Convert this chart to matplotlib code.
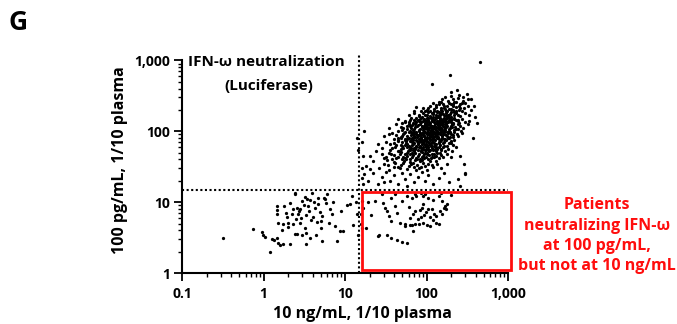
import matplotlib.pyplot as plt
from matplotlib.ticker import FixedLocator, LogLocator, NullFormatter
from matplotlib.patches import Rectangle

plt.rcParams['font.family'] = ['Open Sans', 'DejaVu Sans']
plt.rcParams['font.weight'] = 'bold'

# cut-offs (ng/mL panel and pg/mL panel), same value in both
cut_x = 15
cut_y = 15

# patients neutralizing at both concentrations (upper right)
both = [
    (450, 950), (195, 615), (115, 470), (235, 375), (315, 340), (280, 300), (200, 360),
    (350, 280), (380, 230), (390, 160), (370, 80), (300, 26), (420, 130), (320, 280),
    (140, 260), (170, 300), (210, 280), (250, 320), (190, 250), (230, 260), (280, 270),
    (160, 240), (300, 250), (200, 310), (260, 240), (120, 250),
    (90, 210), (110, 230), (130, 220), (150, 215), (180, 230), (200, 205), (230, 220),
    (260, 210), (290, 215), (320, 230), (170, 205), (140, 240), (75, 220), (100, 200),
    (210, 240), (250, 230), (350, 200),
    (60, 170), (70, 180), (85, 190), (95, 170), (105, 185), (120, 175), (135, 195),
    (150, 180), (165, 170), (180, 190), (195, 175), (215, 185), (240, 170), (270, 190),
    (300, 180), (330, 170), (110, 165), (130, 160), (155, 195), (200, 160), (230, 195),
    (80, 165), (260, 165), (95, 195), (140, 170), (175, 180), (125, 190), (185, 165),
    (45, 150), (55, 140), (65, 155), (75, 135), (82, 150), (90, 140), (100, 155),
    (108, 135), (115, 150), (125, 145), (135, 130), (145, 155), (155, 140), (170, 150),
    (185, 135), (200, 145), (220, 155), (245, 140), (270, 150), (300, 135), (60, 135),
    (70, 145), (95, 130), (120, 158), (140, 138), (160, 148), (190, 157), (210, 132),
    (230, 145), (88, 158), (105, 145), (130, 152), (175, 140), (250, 130), (330, 140),
    (50, 130), (78, 142), (115, 138), (150, 132), (200, 150),
    (35, 110), (42, 125), (50, 105), (58, 120), (65, 112), (72, 128), (80, 105),
    (88, 118), (95, 125), (102, 108), (110, 122), (118, 112), (126, 128), (134, 102),
    (142, 118), (150, 110), (160, 125), (170, 105), (180, 118), (195, 112), (210, 125),
    (230, 108), (255, 120), (280, 110), (320, 125), (48, 115), (62, 100), (76, 118),
    (84, 128), (92, 102), (100, 115), (112, 105), (122, 120), (138, 112), (148, 126),
    (165, 115), (188, 102), (205, 115), (240, 125), (60, 127), (70, 108), (98, 120),
    (130, 115), (155, 103), (175, 128), (215, 104), (265, 102), (45, 100), (108, 128),
    (145, 107),
    (30, 85), (38, 95), (45, 80), (52, 92), (58, 78), (64, 88), (70, 98), (76, 82),
    (82, 94), (88, 76), (94, 86), (100, 97), (106, 80), (112, 90), (120, 78), (128, 95),
    (136, 85), (145, 98), (155, 80), (165, 92), (178, 85), (192, 97), (210, 82),
    (235, 90), (270, 95), (40, 78), (50, 86), (60, 96), (68, 80), (74, 90), (86, 84),
    (92, 99), (98, 78), (104, 92), (116, 85), (124, 99), (140, 77), (150, 90), (170, 78),
    (200, 92), (55, 99), (80, 88), (110, 76), (132, 90), (160, 96), (185, 80), (220, 96),
    (35, 92), (65, 76), (90, 92),
    (25, 65), (32, 70), (38, 58), (44, 72), (50, 62), (56, 68), (62, 56), (68, 74),
    (74, 60), (80, 70), (86, 58), (92, 66), (98, 73), (104, 57), (112, 64), (120, 71),
    (130, 60), (140, 68), (150, 56), (165, 70), (180, 62), (200, 72), (230, 60),
    (42, 64), (48, 56), (54, 74), (60, 62), (66, 70), (72, 57), (78, 66), (84, 74),
    (90, 60), (96, 55), (108, 69), (118, 58), (126, 66), (145, 73), (160, 60), (190, 68),
    (28, 58), (36, 66), (58, 60), (76, 72), (100, 64), (135, 57), (210, 64), (64, 58),
    (88, 71),
    (20, 45), (24, 52), (30, 42), (35, 50), (40, 46), (45, 53), (50, 41), (55, 48),
    (60, 54), (66, 43), (72, 50), (78, 45), (85, 53), (92, 42), (100, 48), (110, 54),
    (122, 44), (135, 50), (150, 46), (170, 52), (200, 44), (28, 48), (38, 40), (48, 51),
    (58, 45), (68, 55), (82, 40), (95, 50), (115, 47), (140, 42), (260, 45), (44, 44),
    (62, 48), (105, 41),
    (18, 32), (22, 38), (26, 30), (30, 35), (35, 28), (40, 37), (45, 31), (52, 36),
    (58, 29), (65, 34), (72, 39), (80, 30), (90, 36), (100, 28), (115, 33), (130, 38),
    (150, 30), (180, 35), (33, 39), (48, 33), (62, 37), (85, 31), (110, 38), (290, 35),
    (20, 29), (75, 28),
    (17, 25), (19, 20), (22, 26), (25, 18), (28, 23), (32, 27), (36, 20), (40, 24),
    (45, 18), (50, 26), (55, 21), (62, 25), (70, 19), (78, 23), (88, 27), (95, 20),
    (105, 24), (120, 18), (140, 22), (165, 26), (190, 19), (240, 21), (300, 25),
    (260, 17), (30, 19), (58, 17),
    (16, 30), (16.5, 45), (16, 70), (17, 100), (16, 22), (16.5, 18), (14.5, 55), (14, 80),
]

# dense core of the upper right cloud
both_core = [
    (34, 33), (41, 36), (47, 30), (53, 38), (61, 32), (68, 36), (76, 33), (83, 38),
    (95, 32), (104, 35), (120, 31), (135, 34), (56, 40), (71, 31), (88, 39), (40, 31),
    (32, 44), (37, 47), (42, 42), (47, 48), (52, 44), (57, 49), (63, 41), (69, 46),
    (74, 42), (80, 48), (87, 44), (93, 47), (99, 43), (106, 46), (114, 42), (124, 48),
    (132, 45), (145, 49), (160, 43), (180, 47), (54, 42), (66, 49), (77, 41), (90, 45),
    (102, 49), (118, 44),
    (36, 55), (41, 60), (46, 53), (51, 58), (55, 63), (59, 52), (63, 59), (67, 64),
    (71, 53), (75, 61), (79, 55), (83, 62), (87, 51), (91, 57), (95, 63), (99, 54),
    (103, 60), (108, 52), (113, 61), (119, 55), (125, 62), (132, 53), (140, 60),
    (152, 55), (165, 62), (185, 57), (205, 53), (48, 64), (70, 58), (85, 53), (97, 59),
    (110, 64), (128, 57), (145, 64), (62, 55), (80, 60),
    (40, 68), (45, 75), (50, 70), (54, 77), (58, 67), (62, 73), (66, 79), (70, 69),
    (74, 76), (78, 68), (82, 74), (86, 79), (90, 70), (94, 76), (98, 67), (102, 73),
    (107, 79), (112, 69), (117, 75), (122, 68), (128, 74), (135, 79), (142, 70),
    (150, 76), (160, 68), (172, 74), (186, 79), (200, 69), (220, 75), (56, 72),
    (68, 66), (80, 77), (92, 73), (105, 70), (115, 78), (130, 67), (145, 73), (165, 78),
    (48, 79), (88, 66),
    (42, 88), (48, 83), (53, 95), (57, 86), (61, 81), (66, 92), (71, 85), (75, 97),
    (79, 89), (84, 81), (88, 93), (93, 86), (97, 95), (101, 83), (106, 90), (111, 98),
    (116, 82), (121, 91), (127, 87), (133, 96), (139, 82), (146, 90), (154, 86),
    (162, 99), (172, 88), (183, 93), (196, 84), (212, 89), (240, 86), (64, 99),
    (73, 83), (86, 88), (95, 81), (109, 86), (125, 82), (142, 95), (158, 91), (178, 97),
    (68, 90), (100, 90), (118, 96), (135, 90),
    (52, 112), (57, 106), (63, 118), (68, 103), (73, 114), (78, 122), (83, 109),
    (87, 116), (91, 104), (96, 112), (101, 121), (105, 103), (110, 113), (115, 119),
    (120, 107), (125, 116), (131, 104), (137, 122), (143, 113), (150, 105), (158, 117),
    (166, 110), (175, 122), (186, 107), (198, 118), (222, 113), (245, 106), (66, 124),
    (81, 101), (94, 120), (107, 110), (128, 110), (153, 121), (172, 114), (90, 110),
    (118, 101), (140, 108), (162, 103),
    (55, 136), (62, 145), (68, 131), (74, 152), (80, 140), (86, 133), (92, 148),
    (98, 138), (104, 156), (110, 130), (116, 143), (122, 135), (128, 151), (134, 141),
    (141, 133), (148, 147), (156, 138), (165, 156), (175, 130), (186, 144), (198, 137),
    (215, 150), (240, 146), (85, 155), (100, 134), (113, 152), (127, 131), (145, 142),
    (160, 135), (180, 152), (205, 128), (72, 140), (95, 145), (137, 158), (170, 140),
    (70, 190), (80, 172), (90, 182), (100, 168), (110, 195), (120, 182), (130, 170),
    (140, 188), (150, 200), (160, 176), (172, 192), (185, 170), (198, 185), (212, 198),
    (230, 178), (250, 200), (105, 210), (125, 205), (145, 170), (165, 212), (190, 208),
    (115, 178), (135, 185), (175, 165), (220, 168),
    (130, 235), (150, 255), (165, 228), (185, 270), (200, 240), (220, 260), (240, 290),
    (270, 250), (155, 285), (210, 225),
]

# neutralizing at 100 pg/mL only, below the 10 ng/mL cut-off (lower left)
low_left = [
    (0.32, 3.1), (0.74, 4.2), (0.96, 3.8), (0.97, 3.5), (1.05, 3.2), (1.2, 2.0),
    (1.25, 3.0), (1.35, 2.9), (1.45, 3.1), (1.5, 2.7), (1.6, 2.5), (1.75, 2.6),
    (2.1, 2.6), (1.46, 8.9), (1.46, 7.8), (1.46, 6.8), (1.8, 8.9), (1.9, 7.0),
    (1.95, 6.2), (2.2, 6.8), (2.3, 8.0), (2.6, 8.3), (2.7, 7.5), (2.65, 6.8),
    (2.8, 8.0), (3.0, 10.4), (3.4, 11.1), (3.5, 8.9), (3.7, 10.8), (4.1, 10.0),
    (4.7, 11.5), (4.6, 9.5), (2.8, 5.1), (2.3, 5.0), (2.0, 5.1), (1.75, 5.0),
    (1.5, 5.1), (3.2, 4.3), (3.3, 3.7), (3.0, 3.5), (2.4, 3.6), (2.6, 3.6),
    (5.2, 6.4), (5.0, 5.5), (5.1, 4.3), (5.5, 11.5), (6.0, 13), (6.5, 8.0),
    (6.9, 6.8), (7.6, 4.6), (8.7, 3.9), (10.5, 9.1), (11.5, 9.5), (14, 6.8),
    (9.5, 3.9), (8.0, 2.8), (5.2, 2.8), (3.7, 3.1), (3.3, 2.6), (2.4, 13.5),
    (3.9, 13.5), (5.7, 11), (12, 12.3), (2.4, 13), (3.1, 9.2), (3.6, 7.6),
    (4.3, 8.4), (4.0, 6.1), (3.3, 6.6), (2.9, 6.0), (2.5, 5.8), (4.5, 5.2),
    (3.8, 5.6), (4.9, 7.3), (5.8, 9.6), (3.2, 12.0), (2.1, 9.8), (2.0, 4.4),
    (1.7, 4.0), (6.3, 5.1), (7.2, 10.2), (9.0, 7.4), (12.5, 4.8), (13.5, 9.9),
    (14.2, 3.4), (4.4, 3.4),
]

# neutralizing at 100 pg/mL but not at 10 ng/mL (red box)
red_box = [
    (16, 10.4), (16.5, 8.3), (15.5, 6.8), (15.5, 4.9), (16, 4.3), (19, 10.1),
    (23, 10.4), (29, 9.8), (31, 8.3), (33, 7.5), (35, 6.4), (37, 5.4), (41, 8.9),
    (43, 7.0), (50, 10.4), (47, 5.1), (54, 4.9), (26, 3.5), (25, 3.3), (33, 3.5),
    (37, 3.1), (43, 2.9), (50, 2.75), (57, 2.65), (55, 4.6), (62, 4.8), (66, 4.7),
    (72, 5.0), (80, 4.9), (90, 5.1), (100, 4.8), (110, 4.6), (68, 3.9), (63, 6.0),
    (68, 6.8), (72, 7.5), (84, 7.8), (92, 6.5), (98, 7.2), (104, 8.0), (110, 6.1),
    (88, 8.3), (90, 9.4), (115, 8.1), (125, 6.9), (132, 6.4), (145, 7.4), (155, 6.8),
    (162, 8.2), (170, 8.9), (95, 13), (90, 12.3), (75, 12.3), (85, 13.5), (180, 9.4),
    (175, 8.0), (140, 4.9), (130, 5.1), (155, 10.4), (140, 12.3), (41, 13.1),
    (37, 11.5), (66, 11.5), (72, 13), (18, 4.3), (120, 10.8), (105, 11.6),
    (78, 5.8), (86, 6.2), (120, 5.6), (60, 8.6), (58, 12.4), (150, 13.4), (200, 12.8),
    (28, 12.9), (21, 6.5),
]

x_ticks = [0.1, 1, 10, 100, 1000]
x_labels = ['0.1', '1', '10', '100', '1,000']
y_ticks = [1, 10, 100, 1000]
y_labels = ['1', '10', '100', '1,000']

fig = plt.figure(figsize=(6.77, 3.24), dpi=100)
ax = fig.add_axes([0.269, 0.157, 0.4815, 0.657])

for group in (both, both_core, low_left, red_box):
    xs, ys = zip(*group)
    ax.scatter(xs, ys, s=5.5, c='black', marker='o', linewidths=0, zorder=3)

ax.set_xscale('log')
ax.set_yscale('log')
ax.set_xlim(0.1, 1000)
ax.set_ylim(1, 1000)

ax.xaxis.set_major_locator(FixedLocator(x_ticks))
ax.set_xticklabels(x_labels)
ax.yaxis.set_major_locator(FixedLocator(y_ticks))
ax.set_yticklabels(y_labels)
ax.xaxis.set_minor_locator(LogLocator(base=10, subs=range(2, 10)))
ax.yaxis.set_minor_locator(LogLocator(base=10, subs=range(2, 10)))
ax.xaxis.set_minor_formatter(NullFormatter())
ax.yaxis.set_minor_formatter(NullFormatter())

for side in ('top', 'right'):
    ax.spines[side].set_visible(False)
for side in ('left', 'bottom'):
    ax.spines[side].set_linewidth(1.5)
ax.tick_params(which='major', length=5.5, width=1.3, labelsize=10)
ax.tick_params(which='minor', length=3, width=1.0)
ax.tick_params(axis='x', which='major', pad=4.5)
ax.tick_params(axis='y', which='major', pad=3)

# cut-off lines
ax.plot([cut_x, cut_x], [1, 1180], ls=(0, (1, 1.2)), color='black', lw=1.5, clip_on=False, zorder=2)
ax.plot([0.1, 1000], [cut_y, cut_y], ls=(0, (1, 1.2)), color='black', lw=1.5, clip_on=False, zorder=2)

ax.add_patch(Rectangle((16, 1.1), 1100 - 16, 14 - 1.1, fill=False, edgecolor='#ff0d0d',
                       lw=2, clip_on=False, zorder=4))

ax.text(0.258, 0.99, 'IFN-ω neutralization', transform=ax.transAxes, ha='center', va='center',
        fontsize=11, fontweight='bold')
ax.text(0.265, 0.877, '(Luciferase)', transform=ax.transAxes, ha='center', va='center',
        fontsize=11, fontweight='bold')

fig.text(0.535, 0.032, '10 ng/mL, 1/10 plasma', ha='center', va='center',
         fontsize=11.5, fontweight='bold')
fig.text(0.177, 0.506, '100 pg/mL, 1/10 plasma', ha='center', va='center', rotation=90,
         fontsize=11.5, fontweight='bold')

fig.text(0.882, 0.272, 'Patients\nneutralizing IFN-ω\nat 100 pg/mL,\nbut not at 10 ng/mL',
         ha='center', va='center', color='#ff0d0d', fontsize=11.5, fontweight='bold',
         linespacing=1.36)

fig.text(0.012, 0.932, 'G', ha='left', va='center', fontsize=19, fontweight='bold')

fig.savefig('out.png', dpi=100)
